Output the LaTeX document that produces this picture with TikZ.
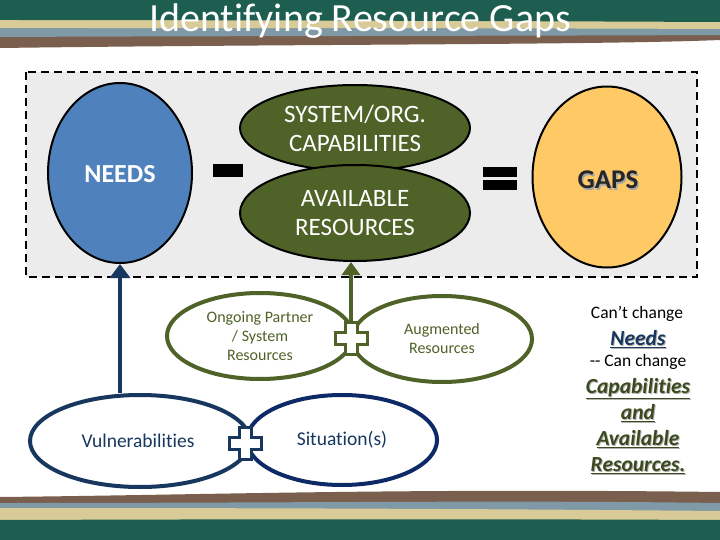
\documentclass[tikz,border=0pt]{standalone}
\usepackage{fontspec}
\setmainfont[Ligatures={NoCommon}]{Carlito}
\usetikzlibrary{shapes.geometric,arrows.meta}
\definecolor{hgreen}{HTML}{1D5E50}
\definecolor{htan}{HTML}{D8CB98}
\definecolor{hgray}{HTML}{8099A6}
\definecolor{hbrown}{HTML}{7A5E4E}
\definecolor{needblue}{HTML}{4F81BD}
\definecolor{olive}{HTML}{4F6228}
\definecolor{gapyellow}{HTML}{FFC966}
\definecolor{navy}{HTML}{17375E}
\definecolor{navyb}{HTML}{0E2A66}
\definecolor{boxgray}{HTML}{ECECEC}
\definecolor{darkolive}{HTML}{3A4A1E}
\tikzset{
  oval/.style={ellipse, inner sep=0pt, draw=black, line width=2pt},
  lowoval/.style={ellipse, inner sep=0pt, fill=white, line width=4pt},
  crossbox/.style={rectangle, inner sep=0pt, minimum width=32pt, minimum height=32pt},
  crossline/.style={line width=3pt, fill=white},
  bar/.style={fill=black},
}
\newcommand{\crossat}[2]{%
  \path[crossline,draw=#2,shift={(#1)}] (-6,-16) -- (6,-16) -- (6,-6) -- (16,-6) -- (16,6) -- (6,6) -- (6,16) -- (-6,16) -- (-6,6) -- (-16,6) -- (-16,-6) -- (-6,-6) -- cycle;}
\begin{document}
\begin{tikzpicture}[x=1pt,y=-1pt]
\useasboundingbox (0,0) rectangle (720,540);
\fill[white] (0,0) rectangle (720,540);
% header streaks
\fill[hbrown] (0,0) -- (720,0) -- (720,40) .. controls (600,45) and (300,44) .. (0,48) -- cycle;
\fill[hgray] (0,0) -- (720,0) -- (720,35) .. controls (500,36) and (200,36) .. (0,37) -- cycle;
\fill[htan] (0,0) -- (720,0) -- (720,29) .. controls (500,28) and (200,28) .. (0,28) -- cycle;
\fill[hgreen] (0,0) -- (720,0) -- (720,22) .. controls (500,21) and (200,20) .. (0,20) -- cycle;
% footer streaks
\fill[hbrown] (0,540) -- (0,497) .. controls (200,495) and (400,488) .. (720,492) -- (720,540) -- cycle;
\fill[hgray] (0,540) -- (0,503) .. controls (300,503) and (500,500) .. (720,503) -- (720,540) -- cycle;
\fill[htan] (0,540) -- (0,508) .. controls (300,508) and (500,509) .. (720,511) -- (720,540) -- cycle;
\fill[hgreen] (0,540) -- (0,520) .. controls (300,519) and (500,519) .. (720,520) -- (720,540) -- cycle;
% title
\node[text=white, font=\fontsize{40}{44}\selectfont] (title) at (360,21) {Identifying Resource Gaps};
% dashed box
\draw[fill=boxgray, line width=2pt, dash pattern=on 8pt off 5pt] (26,72) rectangle (697,277);
% top row
\node[oval, fill=needblue, minimum width=144pt, minimum height=180pt] (needs) at (120,173) {};
\node[text=white, font=\bfseries\fontsize{26}{30}\selectfont] (needst) at (120,174) {NEEDS};
\node[oval, fill=olive, minimum width=230pt, minimum height=86pt, text=white, align=center, font=\fontsize{25}{29}\selectfont] (cap) at (355,128) {SYSTEM/ORG.\\CAPABILITIES};
\node[oval, fill=olive, minimum width=230pt, minimum height=96pt, text=white, align=center, font=\fontsize{25}{29}\selectfont] (avail) at (355,213) {AVAILABLE\\RESOURCES};
\node[oval, fill=gapyellow, minimum width=149pt, minimum height=181pt] (gaps) at (607,177) {};
\node[text=gray!70, font=\bfseries\fontsize{27}{30}\selectfont] at (609.5,181.5) {GAPS};
\node[text=black!85, font=\bfseries\fontsize{27}{30}\selectfont] (gapst) at (608,180) {GAPS};
\fill[bar] (213,164) rectangle (243,177);
\fill[bar] (483,167) rectangle (517,177);
\fill[bar] (483,180) rectangle (517,190);
% lower ellipses
\node[lowoval, draw=olive, minimum width=186pt, minimum height=86pt, text=olive, align=center, font=\fontsize{16}{19}\selectfont] (ongoing) at (260,336) {Ongoing Partner\\/ System\\Resources};
\node[lowoval, draw=olive, minimum width=180pt, minimum height=86pt, text=olive, align=center, font=\fontsize{16}{19}\selectfont] (aug) at (442,339) {Augmented\\Resources};
\node[lowoval, draw=navy, minimum width=220pt, minimum height=92pt] (vuln) at (140,441) {};
\node[text=navy, font=\fontsize{19.5}{22}\selectfont] (vulnt) at (138,441) {Vulnerabilities};
\node[lowoval, draw=navyb, minimum width=190pt, minimum height=90pt, text=navy, font=\fontsize{19.5}{22}\selectfont] (sit) at (342,440) {Situation(s)};
% crosses
\node[crossbox] (p1) at (351,338) {};
\crossat{351,338}{olive}
\node[crossbox] (p2) at (245,443) {};
\crossat{245,443}{navy}
% arrows
\draw[navy, line width=4pt, -{Triangle[width=20pt,length=14pt]}] (needs.south |- vuln.north) -- (needs.south);
\draw[olive, line width=4pt, -{Triangle[width=18pt,length=13pt]}] (p1.north) -- (p1.north |- avail.south);
% right notes
\node[font=\fontsize{17.5}{20}\selectfont] (n1) at (637,314) {Can’t change};
\node[text=gray!60, font=\bfseries\itshape\fontsize{21.5}{24}\selectfont] at (639,340) {\underline{Needs}};
\node[text=navy, font=\bfseries\itshape\fontsize{21.5}{24}\selectfont] (n2) at (638,339) {\underline{Needs}};
\node[font=\fontsize{17.5}{20}\selectfont] (n3) at (638,362) {-{}- Can change};
\node[text=gray!60, align=center, font=\bfseries\itshape\fontsize{21.5}{26.3}\selectfont] at (639,427) {\underline{Capabilities}\\\underline{and}\\\underline{Available}\\\underline{Resources.}};
\node[text=darkolive, align=center, font=\bfseries\itshape\fontsize{21.5}{26.3}\selectfont] (n4) at (638,426) {\underline{Capabilities}\\\underline{and}\\\underline{Available}\\\underline{Resources.}};
\end{tikzpicture}
\end{document}
